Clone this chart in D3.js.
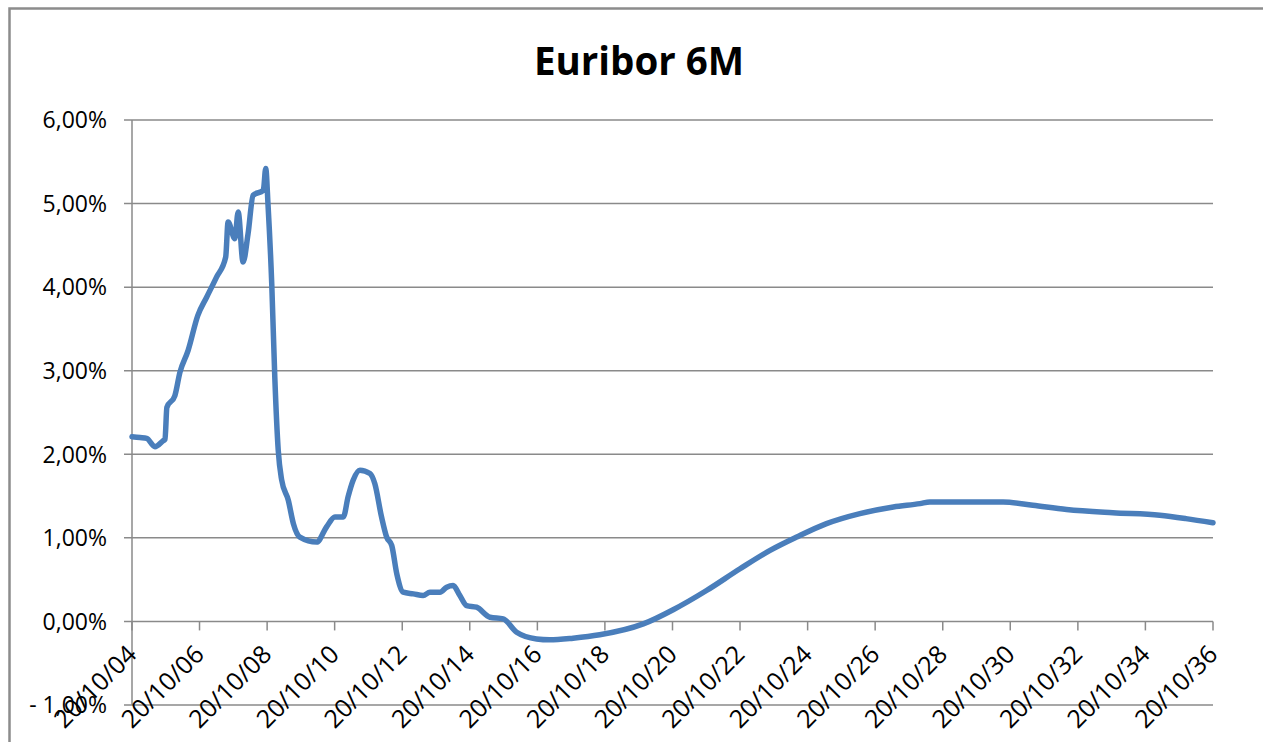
<!DOCTYPE html>
<html>
<head>
<meta charset="utf-8">
<script src="https://cdn.jsdelivr.net/npm/d3@7"></script>
<style>
  html, body { margin: 0; padding: 0; background: #fff; overflow: hidden; }
  #vis { width: 1263px; height: 742px; }
</style>
</head>
<body>
<div id="vis"></div>
<script>
// Euribor 6M: history (2004-2016) plus forward curve up to 2036, in %
var dates = [
  "2004-10-20", "2005-01-15", "2005-03-28", "2005-06-25", "2005-09-20", "2005-10-12",
  "2005-11-01", "2006-01-26", "2006-03-22", "2006-06-18", "2006-10-01", "2007-01-05",
  "2007-04-22", "2007-07-30", "2007-08-25", "2007-11-06", "2007-12-12", "2008-02-03",
  "2008-03-28", "2008-05-22", "2008-09-09", "2008-10-05", "2008-10-30", "2008-12-09",
  "2009-01-11", "2009-02-17", "2009-03-25", "2009-06-06", "2009-07-31", "2009-10-09",
  "2010-04-09", "2010-07-24", "2010-10-23", "2011-01-22", "2011-03-14", "2011-05-08",
  "2011-07-20", "2011-11-06", "2011-12-28", "2012-03-10", "2012-05-04", "2012-06-28",
  "2012-08-22", "2012-10-30", "2013-02-17", "2013-06-03", "2013-08-15", "2013-12-02",
  "2014-02-13", "2014-04-23", "2014-07-05", "2014-09-16", "2015-01-01", "2015-05-27",
  "2015-10-16", "2016-03-10", "2016-10-12", "2017-03-01", "2017-11-10", "2018-08-25",
  "2019-12-09", "2020-10-27", "2021-10-23", "2022-10-20", "2023-09-10", "2024-06-25",
  "2025-05-12", "2026-05-08", "2027-05-05", "2028-02-17", "2028-06-03", "2030-08-04",
  "2031-06-21", "2032-06-20", "2033-11-02", "2035-03-25", "2036-01-01", "2036-10-20"
];
var rates = [
  2.21, 2.20, 2.19, 2.09, 2.16, 2.18,
  2.56, 2.70, 2.98, 3.24, 3.66, 3.88,
  4.12, 4.36, 4.78, 4.58, 4.90, 4.30,
  4.64, 5.10, 5.16, 5.42, 4.98, 4.04,
  2.92, 2.05, 1.70, 1.45, 1.17, 1.01,
  0.95, 1.13, 1.25, 1.25, 1.49, 1.69,
  1.81, 1.77, 1.65, 1.25, 1.01, 0.91,
  0.57, 0.35, 0.33, 0.31, 0.35, 0.35,
  0.41, 0.43, 0.31, 0.19, 0.17, 0.05,
  0.03, -0.13, -0.21, -0.22, -0.20, -0.16,
  -0.03, 0.14, 0.37, 0.63, 0.85, 1.01,
  1.17, 1.29, 1.37, 1.41, 1.43, 1.43,
  1.39, 1.34, 1.30, 1.27, 1.23, 1.18
];
var yTicks = [-1, 0, 1, 2, 3, 4, 5, 6];
var tickYears = d3.range(2004, 2037, 2);
var title = "Euribor 6M";

var parse = d3.timeParse("%Y-%m-%d");
var series = dates.map(function (d, i) { return { date: parse(d), value: rates[i] }; });

var font = "'Open Sans', 'DejaVu Sans', sans-serif";
var gridColor = "#8a8a8a";

var svg = d3.select("#vis").append("svg")
    .attr("width", 1263)
    .attr("height", 742);

// outer chart frame (runs off the right/bottom edges)
svg.append("rect")
    .attr("x", 9.5).attr("y", 8.5)
    .attr("width", 1300).attr("height", 800)
    .attr("fill", "none")
    .attr("stroke", "#8c8c8c")
    .attr("stroke-width", 2.5);

svg.append("text")
    .attr("x", 639).attr("y", 75)
    .attr("text-anchor", "middle")
    .style("font-family", font)
    .style("font-weight", "bold")
    .style("font-size", "38.5px")
    .attr("fill", "#000")
    .text(title);

var x = d3.scaleTime()
    .domain([new Date(2004, 9, 20), new Date(2036, 9, 20)])
    .range([132, 1213]);
var y = d3.scaleLinear()
    .domain([-1, 6])
    .range([705, 120]);

// horizontal gridlines + y ticks
var gy = svg.append("g");
gy.selectAll("line.grid").data(yTicks).enter().append("line")
    .attr("x1", 124).attr("x2", x.range()[1])
    .attr("y1", function (d) { return y(d); })
    .attr("y2", function (d) { return y(d); })
    .attr("stroke", gridColor)
    .attr("stroke-width", 1.5);
gy.selectAll("text").data(yTicks).enter().append("text")
    .attr("x", 107)
    .attr("y", function (d) { return y(d); })
    .attr("dy", "0.36em")
    .attr("text-anchor", "end")
    .style("font-family", font)
    .style("font-size", "23px")
    .attr("fill", "#000")
    .text(function (d) {
        var s = Math.abs(d).toFixed(2).replace(".", ",") + "%";
        return d < 0 ? "- " + s : s;
    });

// y axis line
svg.append("line")
    .attr("x1", 132).attr("x2", 132)
    .attr("y1", y(6)).attr("y2", y(-1))
    .attr("stroke", gridColor)
    .attr("stroke-width", 1.5);

// x axis at 0% with ticks pointing down
var tickDates = tickYears.map(function (yr) { return new Date(yr, 9, 20); });
svg.append("g").selectAll("line").data(tickDates).enter().append("line")
    .attr("x1", function (d) { return x(d); })
    .attr("x2", function (d) { return x(d); })
    .attr("y1", y(0)).attr("y2", y(0) + 9)
    .attr("stroke", gridColor)
    .attr("stroke-width", 1.5);

var fmt = d3.timeFormat("%d/%m/%y");
svg.append("g").selectAll("text").data(tickDates).enter().append("text")
    .attr("transform", function (d) { return "translate(" + (x(d) + 6) + ",656) rotate(-45)"; })
    .attr("text-anchor", "end")
    .style("font-family", font)
    .style("font-size", "25px")
    .attr("fill", "#000")
    .text(function (d) { return fmt(d); });

var line = d3.line()
    .x(function (d) { return x(d.date); })
    .y(function (d) { return y(d.value); })
    .curve(d3.curveMonotoneX);

svg.append("path")
    .datum(series)
    .attr("d", line)
    .attr("fill", "none")
    .attr("stroke", "#4a7ebb")
    .attr("stroke-width", 5.5)
    .attr("stroke-linejoin", "round")
    .attr("stroke-linecap", "round");
</script>
</body>
</html>
